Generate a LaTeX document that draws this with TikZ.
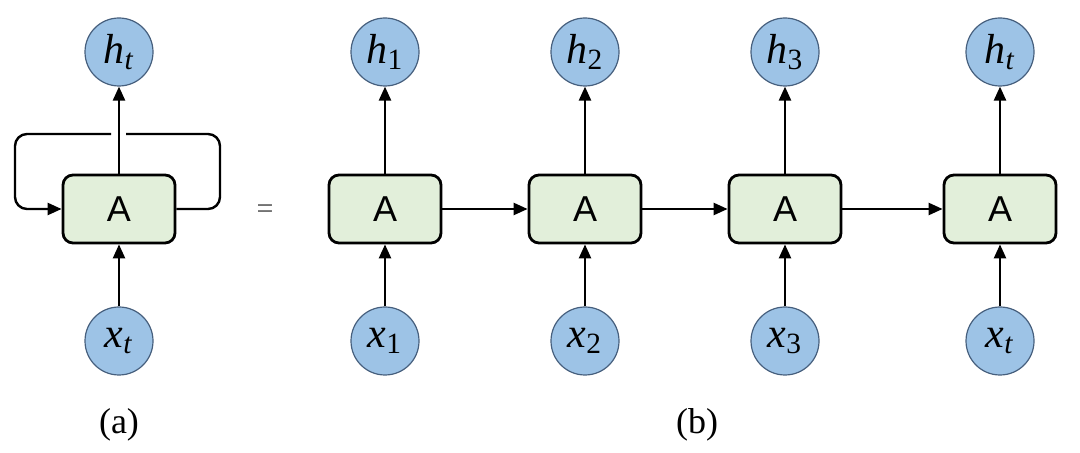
\documentclass[tikz,border=0pt]{standalone}
\usepackage{fontspec}
\setmainfont{Liberation Serif}
\newfontfamily\cellfont{Liberation Sans}
\usetikzlibrary{arrows.meta}

\definecolor{unitblue}{RGB}{157,195,230}
\definecolor{unitedge}{RGB}{70,95,125}
\definecolor{cellgreen}{RGB}{226,239,218}

\tikzset{
	unit/.style={circle, draw=unitedge, line width=0.6pt, fill=unitblue, minimum size=34pt, inner sep=0pt, font=\fontsize{21}{21}\selectfont},
	cell/.style={draw, line width=1.4pt, fill=cellgreen, rounded corners=5pt, minimum width=56pt, minimum height=34pt, font=\cellfont\fontsize{18}{18}\selectfont},
	flow/.style={line width=1.2pt, -{Triangle[length=7pt,width=6pt]}},
	caption/.style={font=\fontsize{18}{18}\selectfont},
}

\begin{document}
\begin{tikzpicture}[x=0.5pt,y=-0.5pt]
		\useasboundingbox (0,0) rectangle (1080,453);
		
		%%%%% (a) folded %%%%%
		\node[cell] (Aa) at (119,209) {A};
		\node[unit] (ha) at (119,52) {\textit{h}\textsubscript{\textit{t}}};
		\node[unit] (xa) at (119,341) {\textit{x}\textsubscript{\textit{t}}};
		\draw[flow] (xa) -- (Aa);
		\draw[flow] (Aa) -- (ha);
		
		\coordinate (gapR) at (126,134);
		\coordinate (gapL) at (111,134);
		\draw[line width=1.2pt, rounded corners=6pt] (Aa.east) -| (220,134) -- (gapR);
		\draw[flow, rounded corners=6pt] (gapL) -| (15,209) -- (Aa.west);
		
		\node[caption] (capa) at (119,425) {(a)};
		\node[font=\fontsize{15}{15}\selectfont, color=black!70] (eq) at (265,212) {=};
		
		%%%%% (b) unfolded %%%%%
		\foreach \n/\x/\t in {1/385/1, 2/585/2, 3/785/3, 4/1000/\textit{t}} {
			\node[cell] (A\n) at (\x,209) {A};
			\node[unit] (h\n) at (\x,52) {\textit{h}\textsubscript{\t}};
			\node[unit] (x\n) at (\x,341) {\textit{x}\textsubscript{\t}};
			\draw[flow] (x\n) -- (A\n);
			\draw[flow] (A\n) -- (h\n);
		}
		\foreach \a/\b in {1/2, 2/3, 3/4}
			\draw[flow] (A\a) -- (A\b);
		
		\node[caption] (capb) at (697,425) {(b)};
		
\end{tikzpicture}
\end{document}
